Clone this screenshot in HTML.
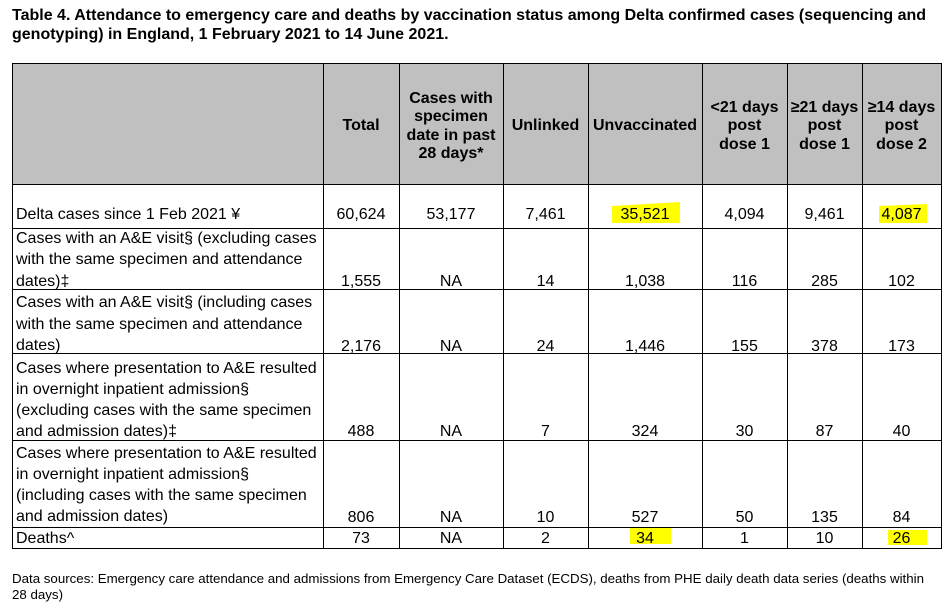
<!DOCTYPE html>
<html><head><meta charset="utf-8"><style>
*{margin:0;padding:0;box-sizing:border-box}
html,body{width:949px;height:608px;background:#fff;overflow:hidden}
body{position:relative;font-family:"Liberation Sans",Arial,sans-serif;color:#000}
.a{position:absolute;white-space:nowrap}
.t{font-weight:bold;font-size:16px;line-height:19px;left:12px}
.hl{position:absolute;background:#000}
.hd{position:absolute;top:66px;height:121px;display:flex;align-items:center;justify-content:center;text-align:center;font-weight:bold;font-size:16px;line-height:18.5px}
.lab{position:absolute;left:16px;font-size:16px;white-space:nowrap}
.num{position:absolute;font-size:16px;line-height:21px;text-align:center}
.ft{font-size:13.3px;line-height:17px;left:12px}
</style></head><body>
<div class="a t" style="top:5.5px">Table 4. Attendance to emergency care and deaths by vaccination status among Delta confirmed cases (sequencing and</div>
<div class="a t" style="top:24.5px">genotyping) in England, 1 February 2021 to 14 June 2021.</div>

<div style="position:absolute;left:12px;top:63px;width:930px;height:121px;background:#c0c0c0"></div>

<svg style="position:absolute;left:0;top:0" width="949" height="608">
<polygon points="612,206 680,202 680,223 612,223" fill="#ffff00"/>
<polygon points="879,206 927,204 927,223 879,223" fill="#ffff00"/>
<rect x="630" y="528" width="41" height="16" fill="#ffff00"/>
<rect x="888" y="530" width="39" height="15" fill="#ffff00"/>
</svg>

<div class="hl" style="left:12px;top:63px;width:1px;height:486px"></div>
<div class="hl" style="left:323px;top:63px;width:1px;height:486px"></div>
<div class="hl" style="left:399px;top:63px;width:1px;height:486px"></div>
<div class="hl" style="left:503px;top:63px;width:1px;height:486px"></div>
<div class="hl" style="left:588px;top:63px;width:1px;height:486px"></div>
<div class="hl" style="left:702px;top:63px;width:1px;height:486px"></div>
<div class="hl" style="left:787px;top:63px;width:1px;height:486px"></div>
<div class="hl" style="left:862px;top:63px;width:1px;height:486px"></div>
<div class="hl" style="left:941px;top:63px;width:1px;height:486px"></div>
<div class="hl" style="left:12px;top:63px;width:930px;height:1px"></div>
<div class="hl" style="left:12px;top:184px;width:930px;height:1px"></div>
<div class="hl" style="left:12px;top:228px;width:930px;height:1px"></div>
<div class="hl" style="left:12px;top:289px;width:930px;height:1px"></div>
<div class="hl" style="left:12px;top:353px;width:930px;height:1px"></div>
<div class="hl" style="left:12px;top:440px;width:930px;height:1px"></div>
<div class="hl" style="left:12px;top:527px;width:930px;height:1px"></div>
<div class="hl" style="left:12px;top:548px;width:930px;height:1px"></div>

<div class="hd" style="left:323px;width:76px">Total</div>
<div class="hd" style="left:399px;width:104px">Cases with<br>specimen<br>date in past<br>28 days*</div>
<div class="hd" style="left:503px;width:85px">Unlinked</div>
<div class="hd" style="left:588px;width:114px">Unvaccinated</div>
<div class="hd" style="left:702px;width:85px">&lt;21 days<br>post<br>dose 1</div>
<div class="hd" style="left:787px;width:75px">≥21 days<br>post<br>dose 1</div>
<div class="hd" style="left:862px;width:79px">≥14 days<br>post<br>dose 2</div>

<div class="lab" style="top:203.5px;line-height:21px">Delta cases since 1 Feb 2021 ¥</div>
<div class="lab" style="top:227.5px;line-height:21.5px">Cases with an A&amp;E visit§ (excluding cases<br>with the same specimen and attendance<br>dates)‡</div>
<div class="lab" style="top:292px;line-height:21.6px">Cases with an A&amp;E visit§ (including cases<br>with the same specimen and attendance<br>dates)</div>
<div class="lab" style="top:357.5px;line-height:21px">Cases where presentation to A&amp;E resulted<br>in overnight inpatient admission§<br>(excluding cases with the same specimen<br>and admission dates)‡</div>
<div class="lab" style="top:442.5px;line-height:21.2px">Cases where presentation to A&amp;E resulted<br>in overnight inpatient admission§<br>(including cases with the same specimen<br>and admission dates)</div>
<div class="lab" style="top:527.5px;line-height:21px">Deaths^</div>

<div class="num" style="left:323px;width:76px;top:203.5px">60,624</div>
<div class="num" style="left:399px;width:104px;top:203.5px">53,177</div>
<div class="num" style="left:503px;width:85px;top:203.5px">7,461</div>
<div class="num" style="left:588px;width:114px;top:203.5px">35,521</div>
<div class="num" style="left:702px;width:85px;top:203.5px">4,094</div>
<div class="num" style="left:787px;width:75px;top:203.5px">9,461</div>
<div class="num" style="left:862px;width:79px;top:203.5px">4,087</div>

<div class="num" style="left:323px;width:76px;top:270.5px">1,555</div>
<div class="num" style="left:399px;width:104px;top:270.5px">NA</div>
<div class="num" style="left:503px;width:85px;top:270.5px">14</div>
<div class="num" style="left:588px;width:114px;top:270.5px">1,038</div>
<div class="num" style="left:702px;width:85px;top:270.5px">116</div>
<div class="num" style="left:787px;width:75px;top:270.5px">285</div>
<div class="num" style="left:862px;width:79px;top:270.5px">102</div>

<div class="num" style="left:323px;width:76px;top:335.5px">2,176</div>
<div class="num" style="left:399px;width:104px;top:335.5px">NA</div>
<div class="num" style="left:503px;width:85px;top:335.5px">24</div>
<div class="num" style="left:588px;width:114px;top:335.5px">1,446</div>
<div class="num" style="left:702px;width:85px;top:335.5px">155</div>
<div class="num" style="left:787px;width:75px;top:335.5px">378</div>
<div class="num" style="left:862px;width:79px;top:335.5px">173</div>

<div class="num" style="left:323px;width:76px;top:420.5px">488</div>
<div class="num" style="left:399px;width:104px;top:420.5px">NA</div>
<div class="num" style="left:503px;width:85px;top:420.5px">7</div>
<div class="num" style="left:588px;width:114px;top:420.5px">324</div>
<div class="num" style="left:702px;width:85px;top:420.5px">30</div>
<div class="num" style="left:787px;width:75px;top:420.5px">87</div>
<div class="num" style="left:862px;width:79px;top:420.5px">40</div>

<div class="num" style="left:323px;width:76px;top:506.5px">806</div>
<div class="num" style="left:399px;width:104px;top:506.5px">NA</div>
<div class="num" style="left:503px;width:85px;top:506.5px">10</div>
<div class="num" style="left:588px;width:114px;top:506.5px">527</div>
<div class="num" style="left:702px;width:85px;top:506.5px">50</div>
<div class="num" style="left:787px;width:75px;top:506.5px">135</div>
<div class="num" style="left:862px;width:79px;top:506.5px">84</div>

<div class="num" style="left:323px;width:76px;top:527.5px">73</div>
<div class="num" style="left:399px;width:104px;top:527.5px">NA</div>
<div class="num" style="left:503px;width:85px;top:527.5px">2</div>
<div class="num" style="left:588px;width:114px;top:527.5px">34</div>
<div class="num" style="left:702px;width:85px;top:527.5px">1</div>
<div class="num" style="left:787px;width:75px;top:527.5px">10</div>
<div class="num" style="left:862px;width:79px;top:527.5px">26</div>

<div class="a ft" style="top:569.5px">Data sources: Emergency care attendance and admissions from Emergency Care Dataset (ECDS), deaths from PHE daily death data series (deaths within</div>
<div class="a ft" style="top:586px">28 days)</div>
</body></html>
